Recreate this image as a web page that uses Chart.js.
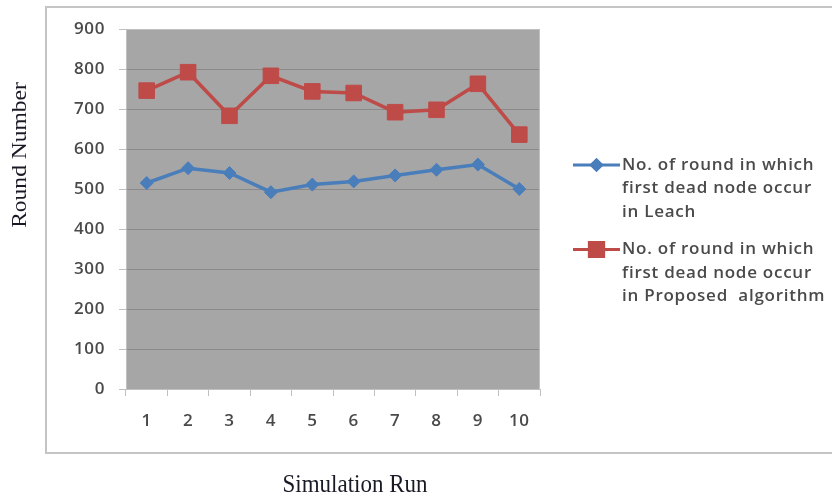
<!DOCTYPE html>
<html>
<head>
<meta charset="utf-8">
<script src="https://cdn.jsdelivr.net/npm/chart.js@4"></script>
<style>
  html, body { margin: 0; padding: 0; background: #fff; }
  #wrap { width: 832px; height: 497px; position: relative; }
</style>
</head>
<body>
<div id="wrap"><canvas id="myChart" width="832" height="497"></canvas></div>
<script>
const runs = ['1', '2', '3', '4', '5', '6', '7', '8', '9', '10'];
const leach = [515, 552, 540, 492, 511, 519, 534, 548, 561, 500];
const proposed = [746, 792, 683, 783, 744, 740, 692, 698, 763, 636];
const legendLeach = ['No. of round in which', 'first dead node occur', 'in Leach'];
const legendProposed = ['No. of round in which', 'first dead node occur', 'in Proposed  algorithm'];
const yTitle = 'Round Number';
const xTitle = 'Simulation Run';

const BLUE = '#4a7ebb';
const RED = '#be4b48';

// frame, plot background, titles and the legend are drawn by hand
const decor = {
  id: 'decor',
  beforeUpdate(chart) {
    chart.ctx.letterSpacing = '0.6px';
  },
  beforeDraw(chart) {
    const { ctx, chartArea: a } = chart;
    ctx.save();
    ctx.fillStyle = '#fff';
    ctx.fillRect(0, 0, chart.width, chart.height);
    ctx.strokeStyle = '#c4c4c4';
    ctx.lineWidth = 2;
    ctx.strokeRect(46, 7, 800, 446);
    ctx.fillStyle = '#a6a6a6';
    ctx.fillRect(a.left, a.top, a.right - a.left, a.bottom - a.top);
    ctx.restore();
  },
  beforeDatasetsDraw(chart) {
    const { ctx, chartArea: a } = chart;
    ctx.save();
    ctx.strokeStyle = '#c0c0c0';
    ctx.lineWidth = 1;
    ctx.strokeRect(a.left + 0.5, a.top + 0.5, a.right - a.left - 1, a.bottom - a.top);
    ctx.restore();
  },
  afterDraw(chart) {
    const ctx = chart.ctx;
    ctx.save();
    ctx.letterSpacing = '0px';
    ctx.fillStyle = '#1a1a26';
    ctx.textAlign = 'center';
    ctx.textBaseline = 'middle';
    ctx.font = '21px "Liberation Serif"';
    ctx.save();
    ctx.translate(20, 155);
    ctx.rotate(-Math.PI / 2);
    ctx.scale(1.12, 1);
    ctx.fillText(yTitle, 0, 0);
    ctx.restore();
    ctx.font = '23px "Liberation Serif"';
    ctx.save();
    ctx.translate(355, 485);
    ctx.scale(1, 1.1);
    ctx.fillText(xTitle, 0, 0);
    ctx.restore();

    // legend
    ctx.letterSpacing = '0.75px';
    ctx.font = '600 17px "Open Sans"';
    ctx.textAlign = 'left';
    const entries = [
      { lines: legendLeach, y: 165, ds: chart.data.datasets[0] },
      { lines: legendProposed, y: 249.5, ds: chart.data.datasets[1] }
    ];
    entries.forEach(e => {
      ctx.strokeStyle = e.ds.borderColor;
      ctx.lineWidth = 3;
      ctx.beginPath();
      ctx.moveTo(573, e.y);
      ctx.lineTo(620, e.y);
      ctx.stroke();
      Chart.helpers.drawPoint(ctx, {
        pointStyle: e.ds.pointStyle,
        radius: e.ds.pointStyle === 'rect' ? 10 : 5,
        borderWidth: 1
      }, 596.5, e.y);
      ctx.fillStyle = e.ds.backgroundColor;
      ctx.strokeStyle = e.ds.borderColor;
      ctx.fill();
      ctx.stroke();
      ctx.fillStyle = '#4a4a4a';
      e.lines.forEach((t, i) => ctx.fillText(t, 622, e.y + i * 23.5));
    });
    ctx.restore();
  }
};

const tickFont = { family: 'Open Sans', size: 17, weight: '600' };

new Chart(document.getElementById('myChart'), {
  type: 'line',
  data: {
    labels: runs,
    datasets: [
      {
        label: legendLeach.join(' '),
        data: leach,
        borderColor: BLUE,
        backgroundColor: BLUE,
        borderWidth: 3.5,
        pointStyle: 'rectRot',
        pointRadius: 6.5,
        pointBorderWidth: 1,
        tension: 0
      },
      {
        label: legendProposed.join(' '),
        data: proposed,
        borderColor: RED,
        backgroundColor: RED,
        borderWidth: 3.5,
        pointStyle: 'rect',
        pointRadius: 11,
        pointBorderWidth: 1,
        tension: 0
      }
    ]
  },
  options: {
    responsive: false,
    animation: false,
    devicePixelRatio: 1,
    layout: { padding: { left: 0, top: 29, right: 292, bottom: 0 } },
    plugins: {
      legend: { display: false },
      tooltip: { enabled: false }
    },
    scales: {
      x: {
        offset: true,
        afterFit(s) { s.height = 108; },
        grid: {
          offset: true,
          drawOnChartArea: false,
          color: '#c0c0c0',
          tickColor: '#c0c0c0',
          tickLength: 7
        },
        border: { color: '#c0c0c0', width: 1 },
        ticks: {
          color: '#4a4a4a',
          padding: 15,
          maxRotation: 0,
          font: tickFont
        }
      },
      y: {
        min: 0,
        max: 900,
        afterFit(s) { s.width = 126; },
        grid: {
          color: '#8a8a8a',
          tickColor: '#c0c0c0',
          tickLength: 7
        },
        border: { display: false },
        ticks: {
          stepSize: 100,
          color: '#4a4a4a',
          padding: 14,
          font: tickFont
        }
      }
    }
  },
  plugins: [decor]
});
</script>
</body>
</html>
